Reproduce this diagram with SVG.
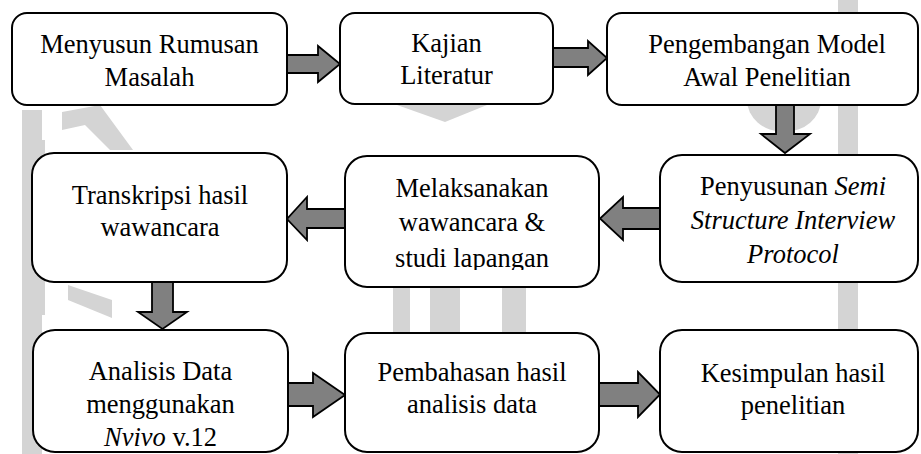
<svg xmlns="http://www.w3.org/2000/svg" width="921" height="454" viewBox="0 0 921 454">
<style>
.box{fill:#ffffff;stroke:#000000;stroke-width:2}
.arr{fill:#808080;stroke:#000000;stroke-width:1.8;stroke-linejoin:miter}
.t{font-family:"Liberation Serif","Times New Roman",serif;font-size:26.5px;fill:#000000;text-anchor:middle}
.i{font-style:italic}
.wm{fill:#d4d4d4;stroke:none}
</style>
<defs>
<clipPath id="clip5"><rect x="345" y="156" width="254" height="114"/></clipPath>
</defs>
<rect x="0" y="0" width="921" height="454" fill="#ffffff"/>
<g id="watermark">
<rect class="wm" x="22" y="110" width="20" height="344"/>
<rect class="wm" x="32" y="140" width="13" height="175"/>
<path class="wm" d="M62,112 L100,105 L133,150 L110,150 L85,125 L62,130 Z"/>
<path class="wm" d="M68,285 L112,300 L112,318 L68,300 Z"/>
<rect class="wm" x="838" y="0" width="20" height="454"/>
<ellipse class="wm" cx="784" cy="100" rx="37" ry="32"/>
<rect class="wm" x="393" y="287" width="17" height="46"/>
<rect class="wm" x="430" y="287" width="30" height="46"/>
<rect class="wm" x="502" y="287" width="24" height="46"/>
<path class="wm" d="M397,105 L487,105 L445,122 Z"/>
</g>
<g id="connectors">
<polygon class="arr" points="287,55 318,55 318,46 340,64 318,82 318,73 287,73"/>
<polygon class="arr" points="553,48 588,48 588,41 607,58 588,75 588,67 553,67"/>
<polygon class="arr" points="776,105 794,105 794,134 810,134 785,153 761,134 776,134"/>
<polygon class="arr" points="660,208 623,208 623,197 600,218.5 623,240 623,229 660,229"/>
<polygon class="arr" points="345,209 307,209 307,197 287,219 307,240 307,228 345,228"/>
<polygon class="arr" points="152,282 173,282 173,312 187,312 162.5,329 138,312 152,312"/>
<polygon class="arr" points="288,383 313,383 313,373 345,395 313,417 313,406 288,406"/>
<polygon class="arr" points="599,383 638,383 638,372 660,394.5 638,417 638,406 599,406"/>
</g>
<g id="n1">
<rect class="box" x="12" y="13" width="275" height="92" rx="15"/>
<text class="t" x="149.5" y="53">Menyusun Rumusan</text>
<text class="t" x="149.5" y="86">Masalah</text>
</g>
<g id="n2">
<rect class="box" x="340" y="13" width="213" height="91" rx="15"/>
<text class="t" x="446.5" y="52">Kajian</text>
<text class="t" x="446.5" y="84">Literatur</text>
</g>
<g id="n3">
<rect class="box" x="607" y="13" width="311" height="92" rx="15"/>
<text class="t" x="767" y="53">Pengembangan Model</text>
<text class="t" x="767" y="86">Awal Penelitian</text>
</g>
<g id="n4">
<rect class="box" x="32" y="153" width="255" height="129" rx="22"/>
<text class="t" x="160" y="204">Transkripsi hasil</text>
<text class="t" x="160" y="236">wawancara</text>
</g>
<g id="n5">
<rect class="box" x="345" y="156" width="254" height="131" rx="22"/>
<g clip-path="url(#clip5)">
<text class="t" x="472" y="197">Melaksanakan</text>
<text class="t" x="472" y="231">wawancara &amp;</text>
<text class="t" x="472" y="267">studi lapangan</text>
</g>
</g>
<g id="n6">
<rect class="box" x="660" y="155" width="258" height="127" rx="22"/>
<text class="t" x="793" y="195">Penyusunan <tspan class="i">Semi</tspan></text>
<text class="t i" x="793" y="229">Structure Interview</text>
<text class="t i" x="793" y="263">Protocol</text>
</g>
<g id="n7">
<rect class="box" x="33" y="330" width="255" height="122" rx="22"/>
<text class="t" x="160.5" y="380">Analisis Data</text>
<text class="t" x="160.5" y="413">menggunakan</text>
<text class="t" x="160.5" y="446"><tspan class="i">Nvivo</tspan> v.12</text>
</g>
<g id="n8">
<rect class="box" x="345" y="333" width="254" height="119" rx="22"/>
<text class="t" x="472" y="381">Pembahasan hasil</text>
<text class="t" x="472" y="413">analisis data</text>
</g>
<g id="n9">
<rect class="box" x="660" y="330" width="258" height="122" rx="22"/>
<text class="t" x="793" y="382">Kesimpulan hasil</text>
<text class="t" x="793" y="414">penelitian</text>
</g>
</svg>
